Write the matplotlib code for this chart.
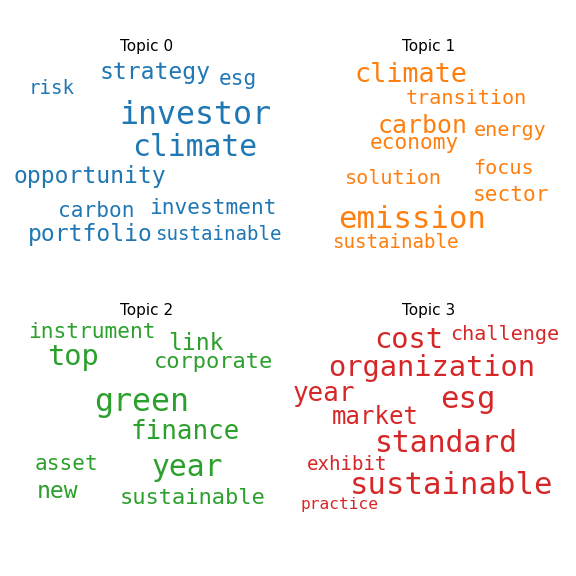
import matplotlib
matplotlib.use("Agg")
import matplotlib.pyplot as plt

# topic words and their relative sizes (font px in the cloud)
topics = ["Topic 0", "Topic 1", "Topic 2", "Topic 3"]
colors = ["#1f77b4", "#ff7f0e", "#2ca02c", "#d62728"]

words0 = ["strategy", "esg", "risk", "investor", "climate", "opportunity",
          "carbon", "investment", "portfolio", "sustainable"]
sizes0 = [24, 22, 20, 33, 31, 24, 22, 22, 24, 20]

words1 = ["climate", "transition", "carbon", "energy", "economy", "focus",
          "solution", "sector", "emission", "sustainable"]
sizes1 = [28, 21, 26, 21, 22, 21, 21, 22, 32, 20]

words2 = ["instrument", "link", "top", "corporate", "green", "finance",
          "year", "asset", "new", "sustainable"]
sizes2 = [22, 24, 30, 23, 33, 27, 31, 22, 24, 23]

words3 = ["cost", "challenge", "organization", "year", "esg", "market",
          "standard", "exhibit", "sustainable", "practice"]
sizes3 = [30, 21, 30, 27, 32, 25, 31, 20, 32, 17]

# layout: word centres in pixels of the 576x576 image
pos0 = [(155, 73), (238, 79), (52, 89), (195, 116), (195, 148), (90, 176),
        (96, 211), (213, 208), (90, 235), (218, 235)]
pos1 = [(411, 75), (466, 99), (423, 126), (510, 130), (414, 143), (503, 169),
        (393, 178), (511, 195), (412, 220), (395, 242)]
pos2 = [(92, 332), (196, 343), (73, 357), (214, 362), (142, 403), (185, 432),
        (187, 467), (66, 464), (58, 491), (193, 498)]
pos3 = [(409, 340), (505, 335), (432, 368), (324, 394), (468, 399), (375, 417),
        (446, 444), (347, 465), (452, 485), (340, 504)]
title_pos = [(147, 47), (429, 47), (147, 311), (429, 311)]

W = H = 576
fig = plt.figure(figsize=(5.76, 5.76), dpi=100)
ax = fig.add_axes([0, 0, 1, 1])
ax.set_xlim(0, W)
ax.set_ylim(H, 0)
ax.axis("off")

all_words = [words0, words1, words2, words3]
all_sizes = [sizes0, sizes1, sizes2, sizes3]
all_pos = [pos0, pos1, pos2, pos3]

for i in range(4):
    tx, ty = title_pos[i]
    ax.text(tx, ty, topics[i], ha="center", va="center", fontsize=11,
            family="DejaVu Sans")
    for w, s, (x, y) in zip(all_words[i], all_sizes[i], all_pos[i]):
        ax.text(x, y, w, ha="center", va="center", fontsize=s * 0.69,
                color=colors[i], family="DejaVu Sans Mono")

plt.savefig("out.png", dpi=100)
